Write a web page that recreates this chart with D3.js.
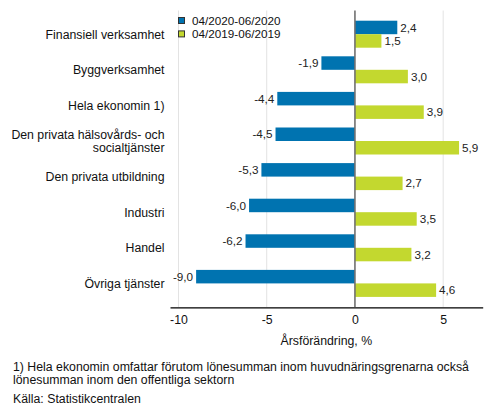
<!DOCTYPE html>
<html><head><meta charset="utf-8">
<script src="https://cdn.jsdelivr.net/npm/d3@7"></script>
<style>body{margin:0;background:#fff}svg{display:block;font-family:"Liberation Sans",Arial,sans-serif}</style>
</head><body><svg id="c" width="493" height="416"></svg>
<script>
const categories = ["Finansiell verksamhet","Byggverksamhet","Hela ekonomin 1)","Den privata hälsovårds- och\nsocialtjänster","Den privata utbildning","Industri","Handel","Övriga tjänster"];
const seriesNames = ["04/2020-06/2020","04/2019-06/2019"];
const values2020 = [2.4,-1.9,-4.4,-4.5,-5.3,-6.0,-6.2,-9.0];
const values2019 = [1.5,3.0,3.9,5.9,2.7,3.5,3.2,4.6];
const tickValues = [-10,-5,0,5];
const colors = ["#0073B0","#C3D82F"];
const axisTitle = "Årsförändring, %";
const footnote = ["1) Hela ekonomin omfattar förutom lönesumman inom huvudnäringsgrenarna också","lönesumman inom den offentliga sektorn"];
const source = "Källa: Statistikcentralen";

const svg = d3.select("#c");
const x = d3.scaleLinear().domain([-10.48,7.24]).range([170,482.7]);
const y = d3.scaleBand().domain(categories).range([10.5,307.1]).paddingInner(0.2416).paddingOuter(0.2865);
const ys = d3.scaleBand().domain(seriesNames).range([0,y.bandwidth()]);
const fmt = v => d3.format(".1f")(v).replace(".",",").replace("−","-");

// grid
svg.append("g").selectAll("line").data(tickValues.filter(t=>t!==0)).join("line")
  .attr("x1",d=>x(d)).attr("x2",d=>x(d)).attr("y1",10.5).attr("y2",307)
  .attr("stroke","#e3e3e3").attr("stroke-width",1);

const data = [];
categories.forEach((c,i)=>{
  data.push({c,s:seriesNames[0],v:values2020[i],col:colors[0]});
  data.push({c,s:seriesNames[1],v:values2019[i],col:colors[1]});
});
svg.append("g").selectAll("rect").data(data).join("rect")
  .attr("x",d=>x(Math.min(0,d.v))).attr("width",d=>Math.abs(x(d.v)-x(0)))
  .attr("y",d=>y(d.c)+ys(d.s)).attr("height",ys.bandwidth())
  .attr("fill",d=>d.col);

svg.append("g").selectAll("text").data(data).join("text")
  .attr("x",d=>d.v<0? x(d.v)-3 : x(d.v)+3)
  .attr("y",d=>y(d.c)+ys(d.s)+ys.bandwidth()/2)
  .attr("dy","0.35em").attr("text-anchor",d=>d.v<0?"end":"start")
  .attr("font-size","11.7px").attr("fill","#222").text(d=>fmt(d.v));

// zero line
svg.append("line").attr("x1",x(0)).attr("x2",x(0)).attr("y1",10.5).attr("y2",307)
  .attr("stroke","#707070").attr("stroke-width",1.6);

// category labels
const cl = svg.append("g").selectAll("text").data(categories).join("text")
  .attr("text-anchor","end").attr("font-size","12.3px").attr("fill","#111")
  .attr("transform",d=>`translate(164.5,${y(d)+y.bandwidth()/2})`);
cl.each(function(d){
  const lines = d.split("\n");
  const t = d3.select(this);
  lines.forEach((l,k)=>{
    t.append("tspan").attr("x",0).attr("y",(k-(lines.length-1)/2)*12.5).attr("dy","0.35em").text(l);
  });
});

// x axis
const ax = svg.append("g").attr("transform","translate(0,307.3)")
  .call(d3.axisBottom(x).tickValues(tickValues).tickSize(0).tickPadding(8).tickFormat(d=>d3.format("d")(d).replace("−","-")));
ax.select(".domain").attr("stroke","#000").attr("stroke-width",1.2);
ax.selectAll("text").attr("font-size","12.3px").attr("fill","#111").attr("font-family","Liberation Sans, Arial, sans-serif");

svg.append("text").attr("x",(x.range()[0]+x.range()[1])/2).attr("y",341).attr("dy","0.35em")
  .attr("text-anchor","middle").attr("font-size","12.3px").attr("fill","#111").text(axisTitle);

// legend
const lg = svg.append("g").selectAll("g").data(seriesNames).join("g")
  .attr("transform",(d,i)=>`translate(178.5,${17.5+i*13.4})`);
lg.append("rect").attr("width",6).attr("height",6).attr("fill",(d,i)=>colors[i]).attr("stroke","#333").attr("stroke-width",1);
lg.append("text").attr("x",13.5).attr("y",3).attr("dy","0.35em").attr("font-size","11.7px").attr("fill","#111").text(d=>d);

// footnotes
svg.append("g").selectAll("text").data(footnote).join("text")
  .attr("x",13).attr("y",(d,i)=>367+i*12.6).attr("dy","0.35em").attr("font-size","12.3px").attr("fill","#111").text(d=>d);
svg.append("text").attr("x",13).attr("y",398.7).attr("dy","0.35em").attr("font-size","12.3px").attr("fill","#111").text(source);
</script></body></html>
